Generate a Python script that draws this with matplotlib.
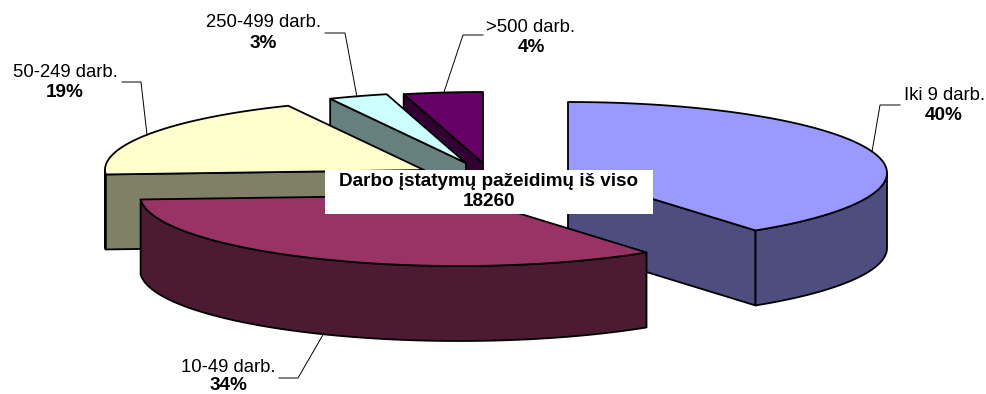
import numpy as np
import matplotlib
matplotlib.use("Agg")
import matplotlib.pyplot as plt
from matplotlib.patches import Polygon, Rectangle

# Data, clockwise from 12 o'clock
labels = ["Iki 9 darb.", "10-49 darb.", "50-249 darb.", "250-499 darb.", ">500 darb."]
shares = [40, 34, 19, 3, 4]
total_violations = 18260
box_title = "Darbo įstatymų pažeidimų iš viso"

# Colours
top_colors = ["#9999FF", "#993366", "#FFFFCC", "#CCFFFF", "#660066"]
side_colors = ["#4D4D80", "#4D1A33", "#808066", "#668080", "#330033"]

# Pie geometry (in pixels of the picture)
RX = 319
RY = 71
DEPTH = 75
slice_centers = [(568, 173), (459, 195), (424, 170), (466, 163), (483, 163)]
draw_order = [4, 3, 2, 0, 1]

# Label placement: text centre x, name y, percent y, leader line
label_x = [944, 228, 65, 263, 531]
name_y = [95, 368, 72, 22, 27]
pct_y = [115, 385.5, 92, 43, 47]
leaders = [
    [(900, 105), (880, 105), (872, 152)],
    [(279, 378), (298, 378), (324, 333)],
    [(122, 82), (141, 82), (147, 135)],
    [(325, 33), (345, 33), (357, 97)],
    [(483, 35), (463, 35), (444, 92)],
]

FONT = "Liberation Sans"
NAME_SIZE = 13.3
BOLD_SIZE = 13.6
EDGE_WIDTH = 1.3


def rim_points(center, a0, a1):
    """Points of the top rim between two clockwise angles (degrees from 12 o'clock)."""
    angles = np.radians(np.linspace(a0, a1, 120))
    x = center[0] + RX * np.sin(angles)
    y = center[1] - RY * np.cos(angles)
    return np.column_stack([x, y])


def draw_cut_face(ax, center, angle, color):
    """Flat face of a slice along the radius at the given angle."""
    outer = rim_points(center, angle, angle)[0]
    pts = [center, tuple(outer), (outer[0], outer[1] + DEPTH), (center[0], center[1] + DEPTH)]
    ax.add_patch(Polygon(pts, closed=True, facecolor=color, edgecolor="black", lw=EDGE_WIDTH, joinstyle="round"))


def draw_slice(ax, center, a0, a1, top_color, side_color):
    """Draws one extruded slice: cut faces, outer wall, then the top."""
    # Cut faces that turn towards the viewer
    if 180 < a0 < 360:
        draw_cut_face(ax, center, a0, side_color)
    if 0 < a1 < 180:
        draw_cut_face(ax, center, a1, side_color)

    # Outer wall on the front half of the ellipse
    w0, w1 = max(a0, 90), min(a1, 270)
    if w0 < w1:
        rim = rim_points(center, w0, w1)
        lower = rim[::-1] + [0, DEPTH]
        ax.add_patch(Polygon(np.vstack([rim, lower]), closed=True, facecolor=side_color,
                             edgecolor="black", lw=EDGE_WIDTH, joinstyle="round"))

    # Top surface
    top = np.vstack([[center], rim_points(center, a0, a1)])
    ax.add_patch(Polygon(top, closed=True, facecolor=top_color, edgecolor="black", lw=EDGE_WIDTH, joinstyle="round"))


fig = plt.figure(figsize=(9.87, 3.94), dpi=100, facecolor="white")
ax = fig.add_axes([0, 0, 1, 1])
ax.set_xlim(0, 987)
ax.set_ylim(394, 0)
ax.axis("off")

# Slice angles come from the shares
edges = np.cumsum([0] + shares) / sum(shares) * 360

for i in draw_order:
    draw_slice(ax, slice_centers[i], edges[i], edges[i + 1], top_colors[i], side_colors[i])

# Leader lines and labels
for i in range(len(labels)):
    xs, ys = zip(*leaders[i])
    ax.plot(xs, ys, color="black", lw=0.7, solid_joinstyle="miter")
    ax.text(label_x[i], name_y[i], labels[i], ha="center", va="center",
            family=FONT, fontsize=NAME_SIZE, color="black")
    ax.text(label_x[i], pct_y[i], f"{shares[i]}%", ha="center", va="center",
            family=FONT, fontsize=BOLD_SIZE, fontweight="bold", color="black")

# White box with the total
ax.add_patch(Rectangle((325, 170), 328, 44, facecolor="white", edgecolor="none", zorder=5))
ax.text(489, 181, box_title, ha="center", va="center", family=FONT,
        fontsize=BOLD_SIZE, fontweight="bold", color="black", zorder=6)
ax.text(489, 201, str(total_violations), ha="center", va="center", family=FONT,
        fontsize=BOLD_SIZE, fontweight="bold", color="black", zorder=6)

fig.savefig("out.png", dpi=100)
